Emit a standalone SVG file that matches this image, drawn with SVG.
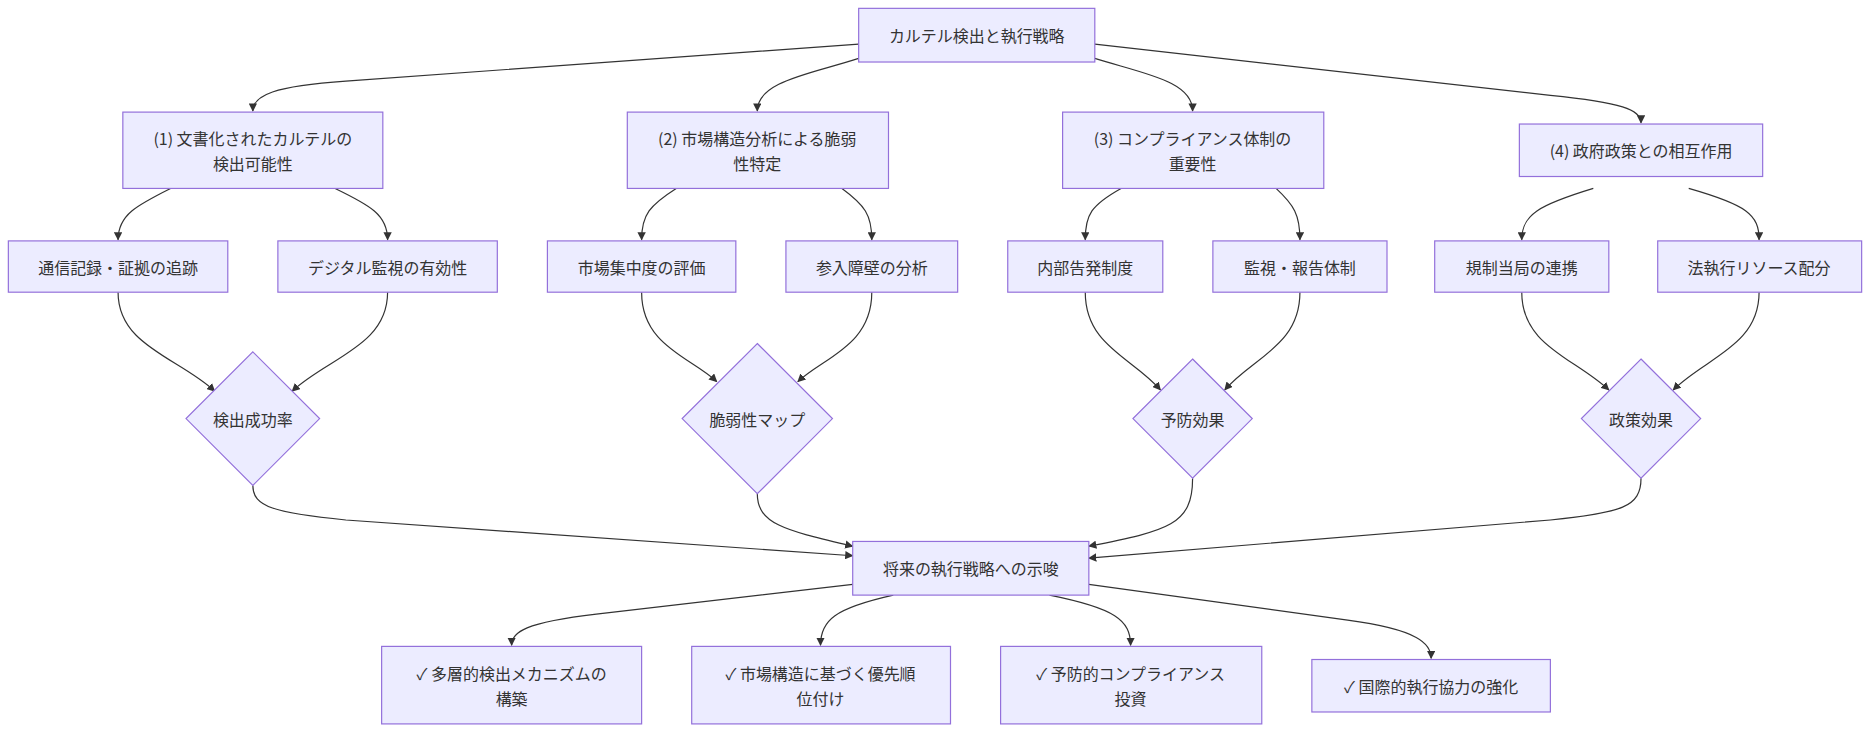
<svg xmlns="http://www.w3.org/2000/svg" width="1870" height="734" viewBox="0 0 1870 734">
<style>
.n{fill:#ececff;stroke:#9370db;stroke-width:1}
.t{font-family:"Noto Sans CJK JP","Liberation Sans",sans-serif;font-size:13.4px;fill:#333;text-anchor:middle;dominant-baseline:central}
.e{fill:none;stroke:#333;stroke-width:1}
</style>
<defs><marker id="a" viewBox="0 0 10 10" refX="9" refY="5" markerWidth="7" markerHeight="7" orient="auto"><path d="M0,0L10,5L0,10z" fill="#333"/></marker></defs>
<rect width="1870" height="734" fill="#fff"/>
<g transform="scale(1.1926)">
<g id="edges" class="e" marker-end="url(#a)">
<path d="M720,37 L290,68 C230,72 212,80 212,93"/>
<path d="M720,49 C680,62 635,68 635,93"/>
<path d="M918,49 C960,62 1000,68 1000,93"/>
<path d="M918,37 L1300,80 C1360,86 1376,92 1376,103"/>
<path d="M143,158 C115,172 99,180 99,201"/>
<path d="M281,158 C310,172 325,180 325,201"/>
<path d="M567,158 C545,172 538,180 538,201"/>
<path d="M706,158 C725,172 731,180 731,201"/>
<path d="M940,158 C915,172 910,180 910,201"/>
<path d="M1070,158 C1085,172 1090,180 1090,201"/>
<path d="M1336,158 C1290,172 1276,180 1276,201"/>
<path d="M1416,158 C1465,172 1475,180 1475,201"/>
<path d="M99,245 C99,290 150,300 180,328"/>
<path d="M325,245 C325,290 275,300 245,328"/>
<path d="M538,245 C538,290 580,300 601,320"/>
<path d="M731,245 C731,290 690,300 669,320"/>
<path d="M910,245 C910,290 950,300 973,327"/>
<path d="M1090,245 C1090,290 1050,300 1027,327"/>
<path d="M1276,245 C1276,290 1320,300 1349,327"/>
<path d="M1475,245 C1475,290 1430,300 1403,327"/>
<path d="M212,407 C212,425 230,430 290,436 L715,466"/>
<path d="M635,414 C635,440 660,445 715,458"/>
<path d="M1000,401 C1000,440 980,445 913,458"/>
<path d="M1376,401 C1376,425 1360,430 1300,436 L913,468"/>
<path d="M715,490 L500,515 C440,522 429,530 429,541"/>
<path d="M749,499 C700,510 688,520 688,541"/>
<path d="M880,499 C935,510 948,520 948,541"/>
<path d="M913,490 L1130,520 C1190,528 1200,540 1200,552"/>
</g>
<g id="n0"><rect class="n" x="720" y="7" width="198" height="45"/><text class="t" x="819" y="29.5">カルテル検出と執行戦略</text></g>
<g id="n1"><rect class="n" x="103" y="94" width="218" height="64"/><text class="t" x="212" y="116">(1) 文書化されたカルテルの</text><text class="t" x="212" y="137">検出可能性</text></g>
<g id="n2"><rect class="n" x="526" y="94" width="219" height="64"/><text class="t" x="635" y="116">(2) 市場構造分析による脆弱</text><text class="t" x="635" y="137">性特定</text></g>
<g id="n3"><rect class="n" x="891" y="94" width="219" height="64"/><text class="t" x="1000" y="116">(3) コンプライアンス体制の</text><text class="t" x="1000" y="137">重要性</text></g>
<g id="n4"><rect class="n" x="1274" y="104" width="204" height="44"/><text class="t" x="1376" y="126">(4) 政府政策との相互作用</text></g>
<g id="a1"><rect class="n" x="7" y="202" width="184" height="43"/><text class="t" x="99" y="223.5">通信記録・証拠の追跡</text></g>
<g id="a2"><rect class="n" x="233" y="202" width="184" height="43"/><text class="t" x="325" y="223.5">デジタル監視の有効性</text></g>
<g id="b1"><rect class="n" x="459" y="202" width="158" height="43"/><text class="t" x="538" y="223.5">市場集中度の評価</text></g>
<g id="b2"><rect class="n" x="659" y="202" width="144" height="43"/><text class="t" x="731" y="223.5">参入障壁の分析</text></g>
<g id="c1"><rect class="n" x="845" y="202" width="130" height="43"/><text class="t" x="910" y="223.5">内部告発制度</text></g>
<g id="c2"><rect class="n" x="1017" y="202" width="146" height="43"/><text class="t" x="1090" y="223.5">監視・報告体制</text></g>
<g id="d1"><rect class="n" x="1203" y="202" width="146" height="43"/><text class="t" x="1276" y="223.5">規制当局の連携</text></g>
<g id="d2"><rect class="n" x="1390" y="202" width="171" height="43"/><text class="t" x="1475" y="223.5">法執行リソース配分</text></g>
<g id="r1"><polygon class="n" points="212,295 268,351 212,407 156,351"/><text class="t" x="212" y="351">検出成功率</text></g>
<g id="r2"><polygon class="n" points="635,288 698,351 635,414 572,351"/><text class="t" x="635" y="351">脆弱性マップ</text></g>
<g id="r3"><polygon class="n" points="1000,301 1050,351 1000,401 950,351"/><text class="t" x="1000" y="351">予防効果</text></g>
<g id="r4"><polygon class="n" points="1376,301 1426,351 1376,401 1326,351"/><text class="t" x="1376" y="351">政策効果</text></g>
<g id="f"><rect class="n" x="715" y="454" width="198" height="45"/><text class="t" x="814" y="476.5">将来の執行戦略への示唆</text></g>
<g id="l1"><rect class="n" x="320" y="542" width="218" height="65"/><text class="t" x="429" y="564">✓ 多層的検出メカニズムの</text><text class="t" x="429" y="585">構築</text></g>
<g id="l2"><rect class="n" x="580" y="542" width="217" height="65"/><text class="t" x="688" y="564">✓ 市場構造に基づく優先順</text><text class="t" x="688" y="585">位付け</text></g>
<g id="l3"><rect class="n" x="839" y="542" width="219" height="65"/><text class="t" x="948" y="564">✓ 予防的コンプライアンス</text><text class="t" x="948" y="585">投資</text></g>
<g id="l4"><rect class="n" x="1100" y="553" width="200" height="44"/><text class="t" x="1200" y="575">✓ 国際的執行協力の強化</text></g>
</g>
</svg>
